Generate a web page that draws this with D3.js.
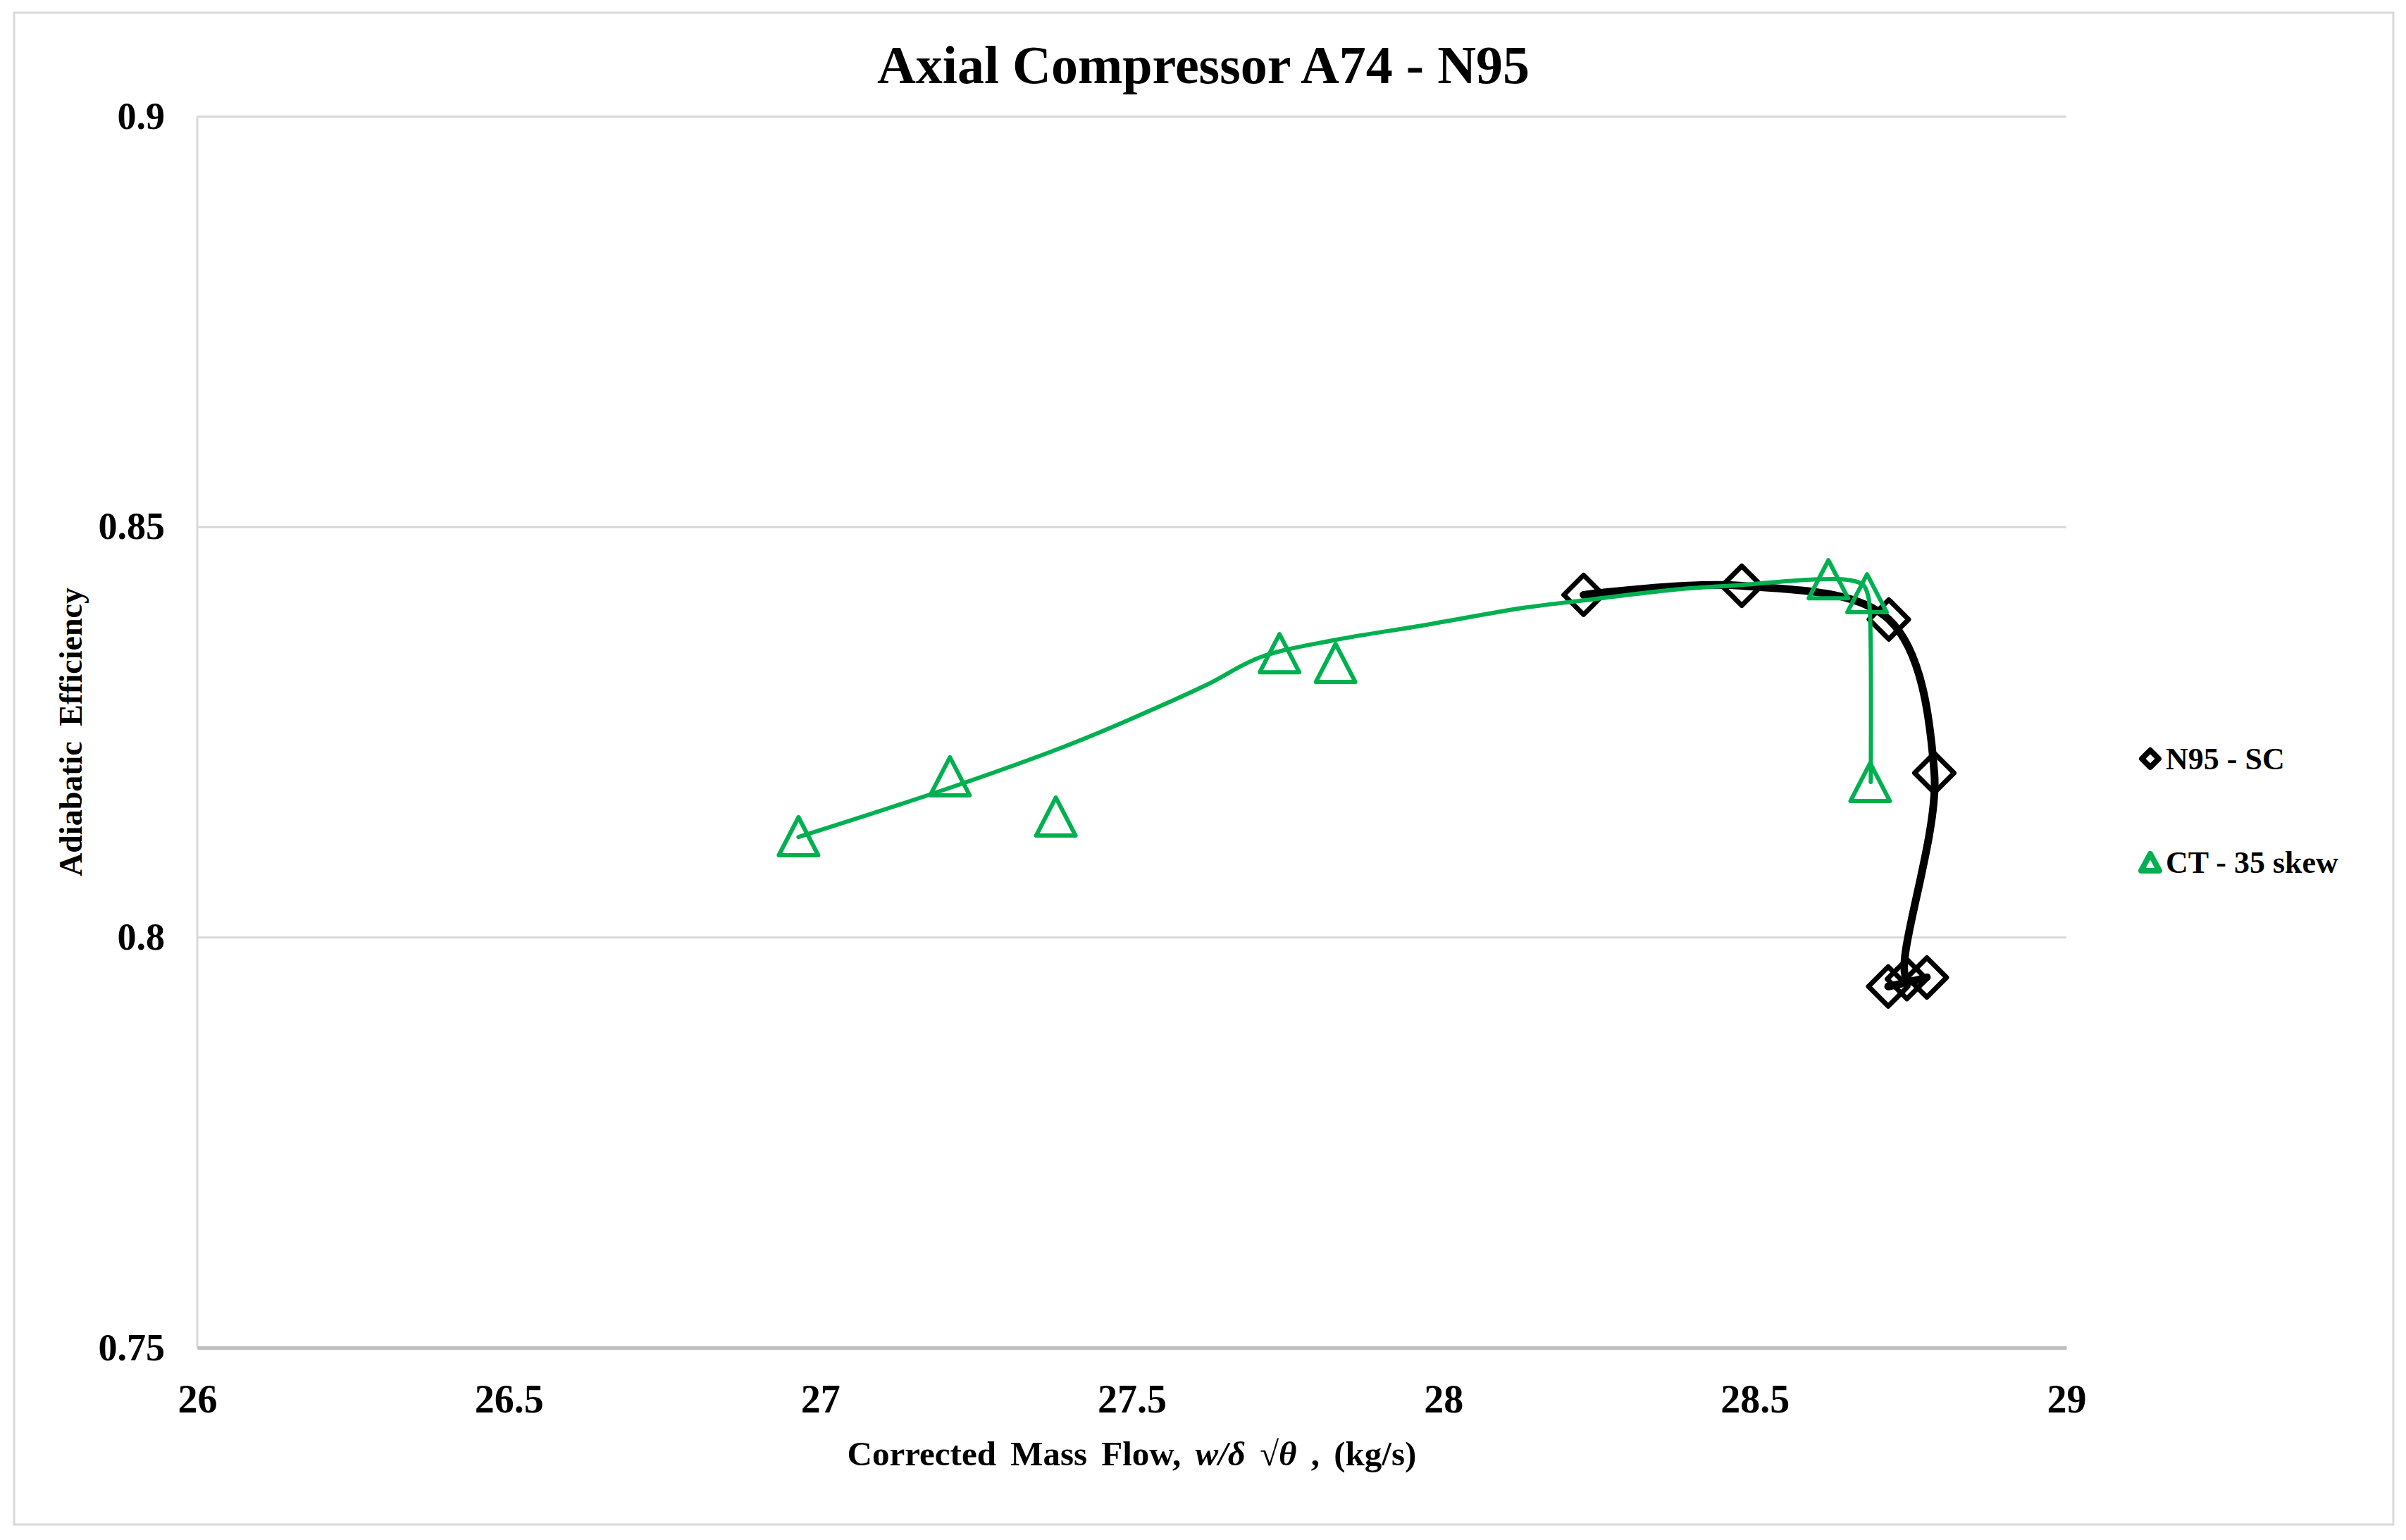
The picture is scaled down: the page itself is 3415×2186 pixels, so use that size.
<!DOCTYPE html>
<meta charset="utf-8">
<html>
<head>
<script src="https://d3js.org/d3.v7.min.js"></script>
<style>
  body { margin: 0; background: #fff; }
  text { font-family: "Liberation Serif", "Times New Roman", serif; font-weight: bold; fill: #000; }
</style>
</head>
<body>
<script>
// N95 - SC measured points (diamonds, joined by a smoothed black line)
var scFlow = [28.225, 28.479, 28.715, 28.788, 28.744, 28.776, 28.714];
var scEff  = [0.8417, 0.8428, 0.8387, 0.8200, 0.7949, 0.7951, 0.7940];

// CT - 35 skew points (triangles)
var ctFlow = [26.965, 27.208, 27.378, 27.737, 27.827, 28.618, 28.680, 28.685];
var ctEff  = [0.8123, 0.8196, 0.8147, 0.8346, 0.8334, 0.8436, 0.8419, 0.8189];

// CT - 35 skew fitted curve (green line, no markers)
var ctLineFlow = [26.965, 27.208, 27.391, 27.493, 27.619, 27.706, 27.826, 27.969, 28.127, 28.222, 28.366, 28.476, 28.603, 28.651, 28.674, 28.682, 28.685, 28.686];
var ctLineEff  = [0.8122, 0.8182, 0.8232, 0.8264, 0.8307, 0.8341, 0.8362, 0.8380, 0.8401, 0.8410, 0.8423, 0.8429, 0.8436, 0.8435, 0.8429, 0.8415, 0.8386, 0.8189];

var xTicks = [26, 26.5, 27, 27.5, 28, 28.5, 29];
var yTicks = [0.75, 0.8, 0.85, 0.9];

var W = 3415, H = 2186;
var plotL = 280, plotR = 2933, plotT = 165, plotB = 1913;
var green = "#00b050";

var svg = d3.select("body").append("svg")
    .attr("width", W)
    .attr("height", H);

// outer chart frame
svg.append("rect")
    .attr("x", 20).attr("y", 18)
    .attr("width", 3377).attr("height", 2146)
    .attr("fill", "#fff")
    .attr("stroke", "#d9d9d9")
    .attr("stroke-width", 3);

var x = d3.scaleLinear().domain([26, 29]).range([plotL, plotR]);
var y = d3.scaleLinear().domain([0.75, 0.9]).range([plotB, plotT]);

// horizontal gridlines
var grid = svg.append("g")
    .attr("transform", "translate(" + plotL + ",0)")
    .call(d3.axisLeft(y).tickValues(yTicks).tickSize(-(plotR - plotL)).tickFormat(""));
grid.select(".domain").remove();
grid.selectAll("line").attr("stroke", "#d9d9d9").attr("stroke-width", 3);

// left plot border
svg.append("line")
    .attr("x1", plotL).attr("x2", plotL)
    .attr("y1", plotT).attr("y2", plotB)
    .attr("stroke", "#d9d9d9").attr("stroke-width", 3);

// y axis labels
var yAxis = svg.append("g")
    .attr("transform", "translate(" + plotL + ",0)")
    .call(d3.axisLeft(y).tickValues(yTicks).tickSize(0).tickPadding(46).tickFormat(d3.format("")));
yAxis.select(".domain").remove();
yAxis.selectAll("text")
    .style("font-size", "54px")
    .style("font-family", "Liberation Serif")
    .style("font-weight", "bold");

// x axis
var xAxis = svg.append("g")
    .attr("transform", "translate(0," + plotB + ")")
    .call(d3.axisBottom(x).tickValues(xTicks).tickSize(0).tickPadding(52).tickFormat(d3.format("")));
xAxis.select(".domain")
    .attr("stroke", "#bfbfbf")
    .attr("stroke-width", 5);
xAxis.selectAll("text")
    .style("font-size", "56px")
    .style("font-family", "Liberation Serif")
    .style("font-weight", "bold");

// title
svg.append("text")
    .attr("x", 1708).attr("y", 118)
    .attr("text-anchor", "middle")
    .style("font-size", "76px")
    .text("Axial Compressor A74 - N95");

// axis titles
var xt = svg.append("text")
    .attr("x", (plotL + plotR) / 2).attr("y", 2080)
    .attr("text-anchor", "middle")
    .style("font-size", "49px")
    .style("word-spacing", "8px");
xt.append("tspan").text("Corrected Mass Flow, ");
xt.append("tspan").style("font-style", "italic").text("w/\u03b4");
xt.append("tspan").text(" \u221a");
xt.append("tspan").style("font-style", "italic").text("\u03b8");
xt.append("tspan").text(" , (kg/s)");

svg.append("text")
    .attr("transform", "translate(116," + (plotT + plotB) / 2 + ") rotate(-90)")
    .attr("text-anchor", "middle")
    .style("font-size", "46px")
    .style("word-spacing", "10px")
    .text("Adiabatic Efficiency");

function diamond(r) {
  return "M0," + (-r) + "L" + r + ",0L0," + r + "L" + (-r) + ",0Z";
}
function triangle(w, h) {
  return "M0," + (-h / 2) + "L" + (w / 2) + "," + (h / 2) + "L" + (-w / 2) + "," + (h / 2) + "Z";
}

var line = d3.line()
    .x(function (d) { return x(d[0]); })
    .y(function (d) { return y(d[1]); })
    .curve(d3.curveCatmullRom.alpha(0.5));

var scData = d3.zip(scFlow, scEff);
var ctData = d3.zip(ctFlow, ctEff);
var ctLine = d3.zip(ctLineFlow, ctLineEff);

// N95 - SC line and markers
svg.append("path")
    .datum(scData)
    .attr("d", line)
    .attr("fill", "none")
    .attr("stroke", "#000")
    .attr("stroke-width", 11)
    .attr("stroke-linecap", "round");

svg.selectAll(".sc")
    .data(scData)
    .enter().append("path")
    .attr("class", "sc")
    .attr("transform", function (d) { return "translate(" + x(d[0]) + "," + y(d[1]) + ")"; })
    .attr("d", diamond(28))
    .attr("fill", "none")
    .attr("stroke", "#000")
    .attr("stroke-width", 7)
    .attr("stroke-linejoin", "round");

// CT - 35 skew line and markers
svg.append("path")
    .datum(ctLine)
    .attr("d", line)
    .attr("fill", "none")
    .attr("stroke", green)
    .attr("stroke-width", 6)
    .attr("stroke-linecap", "round");

svg.selectAll(".ct")
    .data(ctData)
    .enter().append("path")
    .attr("class", "ct")
    .attr("transform", function (d) { return "translate(" + x(d[0]) + "," + y(d[1]) + ")"; })
    .attr("d", triangle(56, 54))
    .attr("fill", "none")
    .attr("stroke", green)
    .attr("stroke-width", 6)
    .attr("stroke-linejoin", "round");

// legend
var legend = [
  { name: "N95 - SC", y: 1077, color: "#000", shape: diamond(12) },
  { name: "CT - 35 skew", y: 1224, color: green, shape: triangle(26, 24) }
];
var lg = svg.selectAll(".lg")
    .data(legend)
    .enter().append("g")
    .attr("transform", function (d) { return "translate(3052," + d.y + ")"; });
lg.append("path")
    .attr("d", function (d) { return d.shape; })
    .attr("fill", "none")
    .attr("stroke", function (d) { return d.color; })
    .attr("stroke-width", 8)
    .attr("stroke-linejoin", "round");
lg.append("text")
    .attr("x", 22).attr("y", 15)
    .style("font-size", "44px")
    .text(function (d) { return d.name; });
</script>
</body>
</html>
